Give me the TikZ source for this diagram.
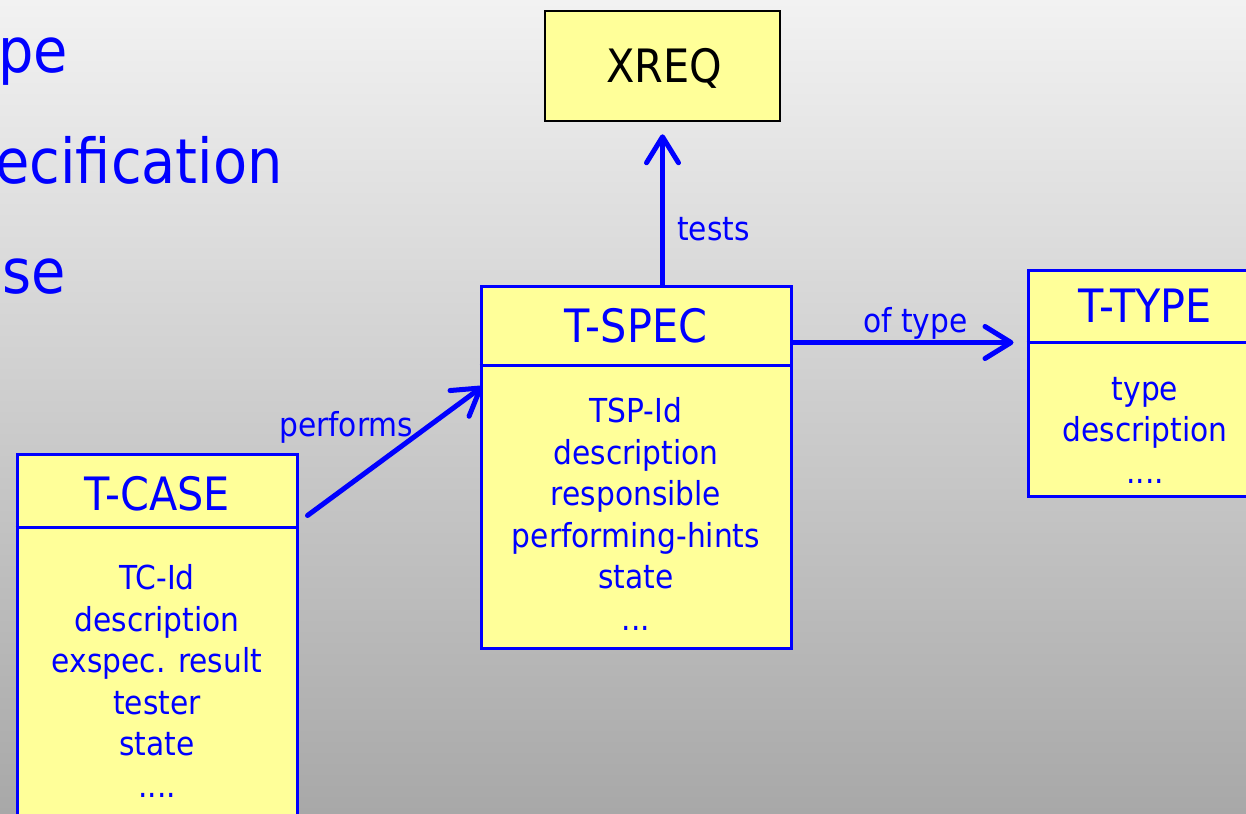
\documentclass[tikz,border=0pt]{standalone}
\usepackage{fontspec}
\setmainfont{DejaVu Sans Condensed}
\usetikzlibrary{arrows.meta,calc}
\definecolor{umlblue}{RGB}{0,0,255}
\definecolor{entityfill}{RGB}{255,255,153}
\definecolor{bgtop}{RGB}{242,242,242}
\definecolor{bgbottom}{RGB}{168,168,168}
\tikzset{
  entity/.style={draw=umlblue, line width=3pt, fill=entityfill, inner sep=0pt},
  extentity/.style={entity, draw=black, line width=2.6pt},
  divider/.style={draw=umlblue, line width=2.5pt},
  headtext/.style={text=umlblue, anchor=base, inner sep=0pt, font=\fontsize{46}{52}\selectfont},
  bodytext/.style={text=umlblue, align=center, inner sep=0pt, font=\fontsize{33}{41.5}\selectfont},
  rel/.style={draw=umlblue, line width=5pt, line cap=round,
    -{Straight Barb[length=26pt, width=32pt, round]}},
  rellabel/.style={text=umlblue, anchor=base west, inner sep=0pt, font=\fontsize{33}{40}\selectfont},
  slidetext/.style={text=umlblue, anchor=base east, inner sep=0pt, font=\fontsize{62}{70}\selectfont}
}
\begin{document}
\begin{tikzpicture}[x=1pt, y=-1pt]
\useasboundingbox (0,0) rectangle (1246,813);
\clip (0,0) rectangle (1246,813);
\shade[top color=bgtop, bottom color=bgbottom] (0,0) rectangle (1246,813);

% slide bullet text running in from the left
\node[slidetext] (w1) at (68,73) {Type};
\node[slidetext] (w2) at (283,183) {Specification};
\node[slidetext] (w3) at (66,293) {Case};

% entity boxes
\node[extentity, minimum width=235pt, minimum height=110pt] (xreq) at (662.5,66) {};
\node[headtext, text=black] (xreqname) at (664,83) {XREQ};

\node[entity, minimum width=310pt, minimum height=362pt] (tspec) at (636,467) {};
\draw[divider] ($(tspec.north west)+(0,81)$) -- ($(tspec.north east)+(0,81)$);
\node[headtext] (tspecname) at (636,342) {T-SPEC};
\node[bodytext] (tspecattr) at (636,514) {TSP-Id\\description\\responsible\\performing-hints\\state\\...};

\node[entity, minimum width=234pt, minimum height=226pt] (ttype) at (1145,383) {};
\draw[divider] ($(ttype.north west)+(0,74)$) -- ($(ttype.north east)+(0,74)$);
\node[headtext] (ttypename) at (1145,322) {T-TYPE};
\node[bodytext] (ttypeattr) at (1145,430) {type\\description\\....};

\node[entity, minimum width=280pt, minimum height=386pt] (tcase) at (157,647) {};
\draw[divider] ($(tcase.north west)+(0,75)$) -- ($(tcase.north east)+(0,75)$);
\node[headtext] (tcasename) at (157,510) {T-CASE};
\node[bodytext] (tcaseattr) at (157,681) {TC-Id\\description\\exspec. result\\tester\\state\\....};

% relationships
\draw[rel, shorten >=12pt] (xreq.south |- tspec.north) -- (xreq.south);
\node[rellabel] (testslbl) at (677,240) {tests};

\draw[rel, shorten >=13pt] ($(tspec.north east)+(0,58)$) -- ($(ttype.north west)+(0,74)$);
\node[rellabel] (oftypelbl) at (863,332) {of type};

\draw[rel] ($(tcase.north east)+(9,63)$) -- ($(tspec.north west)+(3,102)$);
\node[rellabel] (performslbl) at (279,436) {performs};
\end{tikzpicture}
\end{document}
